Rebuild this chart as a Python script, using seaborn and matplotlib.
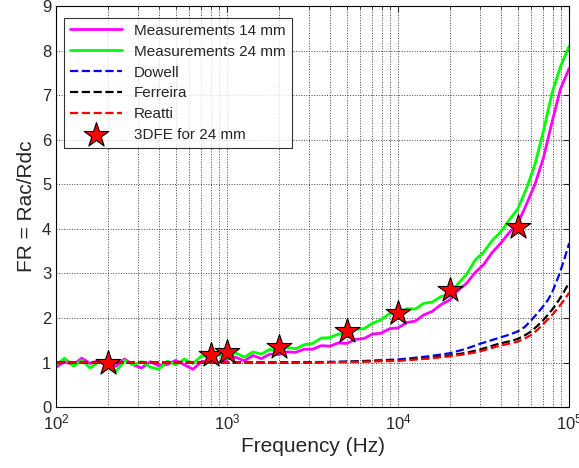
import seaborn as sns
import matplotlib.pyplot as plt
from matplotlib.ticker import LogLocator, NullFormatter

sns.set_style("white")
plt.rcParams["font.family"] = ["Liberation Sans", "DejaVu Sans"]
plt.rcParams["mathtext.fontset"] = "custom"
plt.rcParams["mathtext.rm"] = "Liberation Sans"

# measured frequencies (Hz)
freq = [100, 112, 126, 141, 158, 178, 200, 224, 251, 282, 316, 355, 398, 447, 501,
        562, 631, 708, 794, 891, 1000, 1122, 1259, 1413, 1585, 1778, 1995, 2239, 2512,
        2818, 3162, 3548, 3981, 4467, 5012, 5623, 6310, 7079, 7943, 8913, 10000, 11220,
        12589, 14125, 15849, 17783, 19953, 22387, 25119, 28184, 31623, 35481, 39811,
        44668, 50119, 56234, 63096, 70795, 79433, 89125, 100000]

meas_14 = [0.90, 1.02, 0.95, 1.10, 0.98, 1.05, 0.98, 0.92, 1.08, 0.95, 0.88, 1.02, 0.93,
           0.96, 1.05, 0.95, 0.85, 1.02, 1.05, 1.00, 1.08, 1.12, 1.04, 1.16, 1.09, 1.19,
           1.18, 1.24, 1.23, 1.30, 1.30, 1.38, 1.37, 1.44, 1.43, 1.52, 1.54, 1.64, 1.66,
           1.76, 1.78, 1.90, 1.93, 2.07, 2.15, 2.30, 2.40, 2.62, 2.78, 3.02, 3.20, 3.47,
           3.68, 3.92, 4.12, 4.55, 5.00, 5.60, 6.40, 7.15, 7.60]

meas_24 = [0.95, 1.10, 0.92, 1.05, 0.88, 1.02, 0.93, 0.80, 1.05, 0.95, 1.02, 0.90, 0.85,
           1.03, 0.95, 1.08, 0.98, 1.15, 1.12, 1.18, 1.10, 1.22, 1.12, 1.24, 1.19, 1.30,
           1.24, 1.34, 1.31, 1.40, 1.43, 1.55, 1.56, 1.64, 1.64, 1.75, 1.76, 1.88, 1.96,
           2.10, 2.13, 2.21, 2.20, 2.33, 2.36, 2.48, 2.53, 2.77, 2.98, 3.30, 3.48, 3.74,
           3.93, 4.20, 4.45, 4.90, 5.45, 6.20, 7.05, 7.65, 8.10]

# analytical models
freq_model = [100, 1000, 3000, 5000, 10000, 15000, 20000, 25000, 30000, 38500, 45000,
              50000, 55000, 60000, 65000, 70000, 75000, 80000, 87000, 93000, 100000]
dowell = [1.0, 1.0, 1.01, 1.02, 1.07, 1.14, 1.21, 1.31, 1.42, 1.55, 1.63, 1.70, 1.80,
          1.95, 2.10, 2.25, 2.40, 2.60, 2.95, 3.28, 3.68]
ferreira = [1.0, 1.0, 1.0, 1.02, 1.05, 1.10, 1.16, 1.22, 1.29, 1.42, 1.48, 1.53, 1.61,
            1.70, 1.82, 1.94, 2.07, 2.20, 2.40, 2.58, 2.80]
reatti = [1.0, 1.0, 1.0, 1.01, 1.04, 1.09, 1.14, 1.19, 1.25, 1.37, 1.43, 1.47, 1.54,
          1.62, 1.73, 1.85, 1.97, 2.08, 2.25, 2.39, 2.57]

# 3D FE results
freq_fe = [200, 800, 1000, 2000, 5000, 10000, 20000, 50000]
fe_24 = [1.0, 1.18, 1.23, 1.36, 1.72, 2.12, 2.62, 4.05]

fig = plt.figure(figsize=(5.79, 4.68), dpi=100)
ax = fig.add_axes([0.097, 0.130, 0.886, 0.857])

sns.lineplot(x=freq, y=meas_14, color="#ff00ff", lw=2, label="Measurements 14 mm", ax=ax)
sns.lineplot(x=freq, y=meas_24, color="#00ff00", lw=2, label="Measurements 24 mm", ax=ax)
sns.lineplot(x=freq_model, y=dowell, color="#0000ff", lw=1.6, linestyle="--", label="Dowell", ax=ax)
sns.lineplot(x=freq_model, y=ferreira, color="black", lw=1.6, linestyle="--", label="Ferreira", ax=ax)
sns.lineplot(x=freq_model, y=reatti, color="red", lw=1.6, linestyle="--", label="Reatti", ax=ax)
sns.scatterplot(x=freq_fe, y=fe_24, marker="*", s=350, color="red", edgecolor="black",
                linewidth=0.8, label="3DFE for 24 mm", ax=ax, zorder=5)

ax.set_xscale("log")
ax.set_xlim(1e2, 1e5)
ax.set_ylim(0, 9)
ax.set_yticks(range(0, 10))
ax.xaxis.set_minor_locator(LogLocator(base=10, subs=range(2, 10)))
ax.xaxis.set_minor_formatter(NullFormatter())
ax.grid(True, which="major", color="#444444", linestyle=":", lw=0.7)
ax.grid(True, which="minor", axis="x", color="#444444", linestyle=":", lw=0.7)
ax.tick_params(which="both", direction="in", top=True, right=True, labelsize=12)
ax.tick_params(which="major", length=4)
ax.tick_params(which="minor", length=2.5)
for sp in ax.spines.values():
    sp.set_color("black")
    sp.set_linewidth(0.8)

ax.set_xlabel("Frequency (Hz)", fontsize=15)
ax.set_ylabel("FR = Rac/Rdc", fontsize=15)

leg = ax.legend(loc="upper left", fontsize=11, frameon=True, fancybox=False,
                edgecolor="black", borderaxespad=0.5, handlelength=3.4,
                labelspacing=0.45, bbox_to_anchor=(0.0, 0.99))
leg.get_frame().set_linewidth(0.8)

plt.savefig("out.png", dpi=100)
